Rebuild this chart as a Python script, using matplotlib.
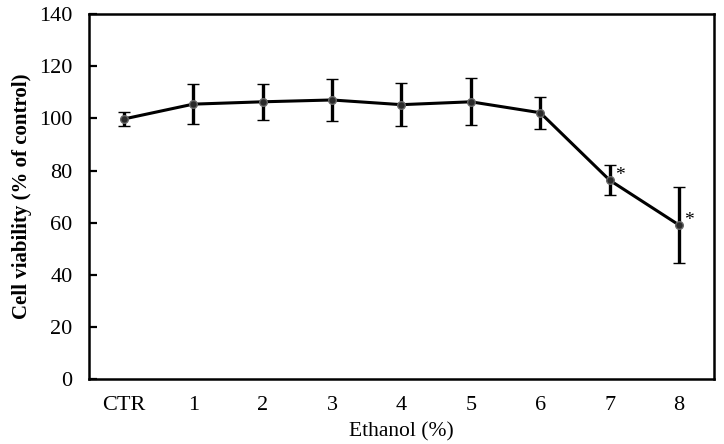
import matplotlib.pyplot as plt
import numpy as np

plt.rcParams['font.family'] = ['Liberation Serif', 'DejaVu Serif']

labels = ["CTR", "1", "2", "3", "4", "5", "6", "7", "8"]
viability = [99.8, 105.5, 106.4, 107.1, 105.3, 106.4, 102.2, 76.3, 59.1]
errors = [2.7, 7.8, 7.0, 8.0, 8.2, 9.0, 6.2, 5.7, 14.7]
significant = [False, False, False, False, False, False, False, True, True]

fig = plt.figure(figsize=(7.24, 4.44), dpi=100)
ax = fig.add_axes([0.123, 0.146, 0.863, 0.822])

x = np.arange(len(labels))
ax.errorbar(x, viability, yerr=errors, color='black', linewidth=2.2,
            elinewidth=2.4, capsize=4.5, capthick=2.4,
            marker='o', markersize=5.5, markerfacecolor='#2a2a2a',
            markeredgecolor='#666666', markeredgewidth=1, zorder=3)

for xi, yi, sig in zip(x, viability, significant):
    if sig:
        ax.text(xi + 0.07, yi + 1.8, "*", fontsize=14, ha='left', va='center')

ax.set_xlim(-0.5, 8.5)
ax.set_ylim(0, 140)
ax.set_yticks(np.arange(0, 141, 20))
ax.set_xticks(x)
ax.set_xticklabels(labels)

for s in ax.spines.values():
    s.set_linewidth(1.8)

ax.tick_params(axis='y', direction='in', length=6, width=1.6, labelsize=16, pad=12)
ax.tick_params(axis='x', length=0, labelsize=16, pad=12)

ax.set_xlabel("Ethanol (%)", fontsize=15.5, labelpad=5)
ax.set_ylabel("Cell viability (% of control)", fontsize=15, fontweight='bold', labelpad=5)

fig.savefig("out.png", dpi=100)
